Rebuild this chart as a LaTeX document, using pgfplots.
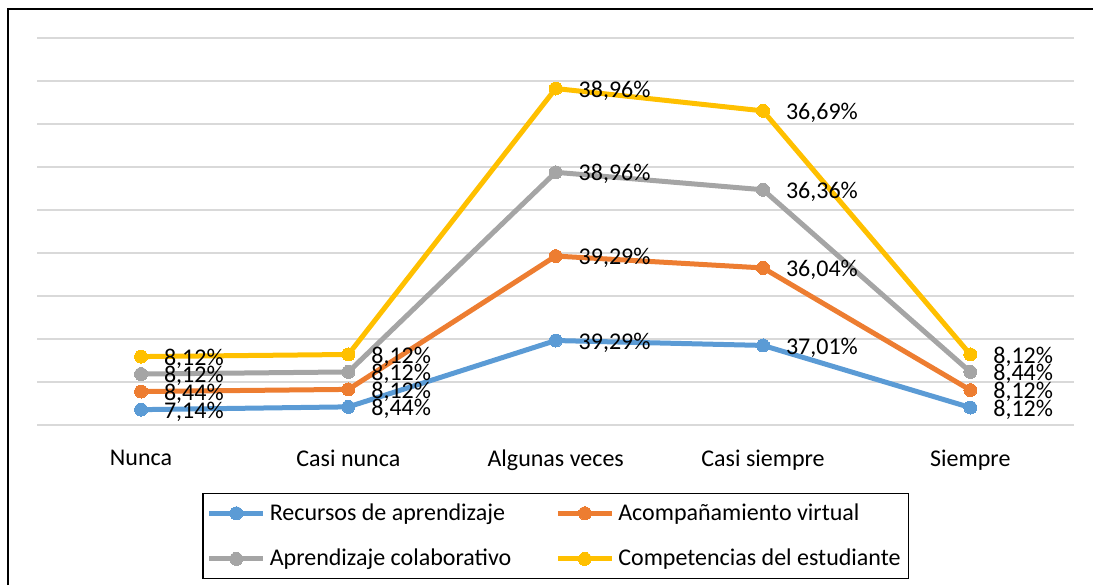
\documentclass[border=0pt]{standalone}
\usepackage{fontspec}
\setmainfont{Carlito}
\usepackage{pgfplots}
\usepackage{pgfplotstable}
\pgfplotsset{compat=1.18}
\definecolor{cblue}{HTML}{5B9BD5}
\definecolor{corange}{HTML}{ED7D31}
\definecolor{cgray}{HTML}{A5A5A5}
\definecolor{cyellow}{HTML}{FFC000}
\definecolor{gridc}{HTML}{D9D9D9}
\pgfplotstableread{
x rec aco apr com
0 7.14 8.44 8.12 8.12
1 8.44 8.12 8.12 8.12
2 39.29 39.29 38.96 38.96
3 37.01 36.04 36.36 36.69
4 8.12 8.12 8.44 8.12
}\datatable
\begin{document}
\begin{tikzpicture}[x=1pt,y=1pt]
\path[use as bounding box] (0,0) rectangle (546.5,292.5);
\draw[line width=1pt] (4,0) -- (4,288) -- (546.5,288);
\begin{axis}[
  at={(18.7pt,80pt)}, anchor=south west,
  scale only axis, width=518.3pt, height=193.5pt,
  xmin=-0.5, xmax=4.5, ymin=0, ymax=180,
  ytick={0,20,...,180}, yticklabels={},
  ymajorgrids, grid style={draw=gridc, line width=1pt},
  axis line style={draw=none},
  major tick length=0pt,
  xtick={0,1,2,3,4},
  xticklabels={Nunca, Casi nunca, Algunas veces, Casi siempre, Siempre},
  xticklabel style={font=\fontsize{12}{14}\selectfont, text=black, yshift=-9pt},
  stack plots=y,
  clip=false,
  point meta=explicit,
  nodes near coords={\pgfmathprintnumber[fixed,fixed zerofill,precision=2,use comma,assume math mode=true]{\pgfplotspointmeta}\%},
  every node near coord/.append style={anchor=west, xshift=11.5pt, yshift=-1pt, inner sep=0pt, font=\fontsize{12}{14}\selectfont, text=black},
  legend columns=2,
  legend cell align=left,
  legend image code/.code={\draw[mark repeat=2,mark phase=2,#1,line width=2.5pt] plot coordinates {(0pt,0pt) (13.5pt,0pt) (27pt,0pt)};},
  legend style={at={(0.5,-0.287)}, anchor=center, draw=black, line width=0.75pt,
    font=\fontsize{12}{14}\selectfont, inner xsep=2pt, inner ysep=3pt, row sep=9pt,
    /tikz/column 2/.style={column sep=20pt}},
]
\addplot[cblue, line width=2.5pt, mark=*, mark size=3.25pt, mark options={solid, fill=cblue, draw=cblue, line width=0pt}] table[x=x, y=rec, meta=rec] {\datatable};
\addlegendentry{Recursos de aprendizaje}
\addplot[corange, line width=2.5pt, mark=*, mark size=3.25pt, mark options={solid, fill=corange, draw=corange, line width=0pt}] table[x=x, y=aco, meta=aco] {\datatable};
\addlegendentry{Acompañamiento virtual}
\addplot[cgray, line width=2.5pt, mark=*, mark size=3.25pt, mark options={solid, fill=cgray, draw=cgray, line width=0pt}] table[x=x, y=apr, meta=apr] {\datatable};
\addlegendentry{Aprendizaje colaborativo}
\addplot[cyellow, line width=2.5pt, mark=*, mark size=3.25pt, mark options={solid, fill=cyellow, draw=cyellow, line width=0pt}] table[x=x, y=com, meta=com] {\datatable};
\addlegendentry{Competencias del estudiante}
\end{axis}
\end{tikzpicture}
\end{document}
